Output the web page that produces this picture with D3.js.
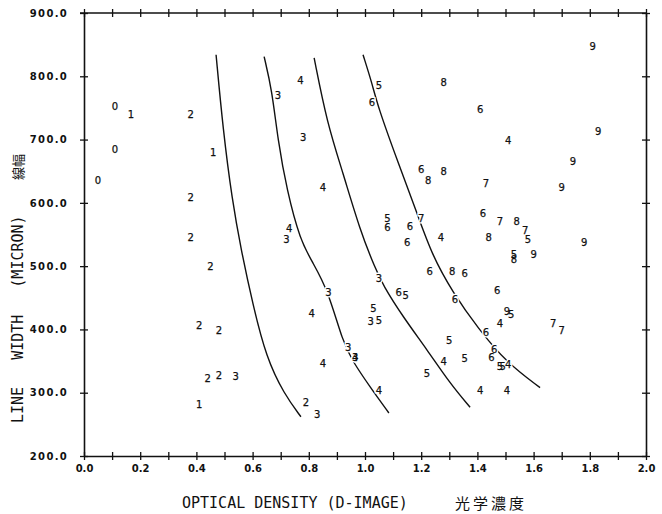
<!DOCTYPE html>
<html>
<head>
<meta charset="utf-8">
<script src="https://cdn.jsdelivr.net/npm/d3@7/dist/d3.min.js"></script>
<style>
  html, body { margin: 0; padding: 0; background: #fff; }
  svg { display: block; }
</style>
</head>
<body>
<svg id="chart" width="662" height="514"></svg>
<script>
// Axis ranges and tick values
const densityTicks = d3.range(0, 21).map(i => i / 10);       // 0.0 .. 2.0 every 0.1
const densityLabelTicks = d3.range(0, 11).map(i => i / 5);   // labelled every 0.2
const widthTicks = d3.range(200, 901, 100);                  // 200 .. 900

// Measured points: label digit, optical density, line width (micron)
const pointLabels = [
  "0","1","2","0","1","0","2","2","4","3","3","4","4","3",
  "9","8","5","6","6","9","4","9","6","8","8","7","9",
  "5","6","6","7","6","7","8","7","5","6","4","8","9","5","8","9",
  "2","2","2","2","2","3","1","2","3","4","4",
  "3","3","5","3","5","3","3","4","4",
  "6","8","6","6","6","5","6","9","5","4","7","7","6",
  "5","6","6","4","5","5","5","4","5","4","4"
];
const density = [
  0.11,0.167,0.38,0.11,0.46,0.05,0.38,0.38,0.77,0.69,0.78,0.85,0.73,0.72,
  1.81,1.28,1.05,1.025,1.41,1.83,1.51,1.74,1.20,1.225,1.28,1.43,1.70,
  1.08,1.08,1.16,1.20,1.42,1.48,1.54,1.57,1.58,1.15,1.27,1.44,1.78,1.53,1.53,1.60,
  0.45,0.41,0.48,0.44,0.48,0.54,0.41,0.79,0.83,0.81,0.85,
  0.87,1.05,1.03,1.02,1.05,0.94,0.965,0.965,1.05,
  1.23,1.31,1.355,1.47,1.12,1.145,1.32,1.505,1.52,1.48,1.67,1.70,1.43,
  1.30,1.46,1.45,1.28,1.355,1.48,1.49,1.51,1.22,1.41,1.505
];
const lineWidth = [
  753,739,740,684,680,636,608,546,793,770,704,625,560,543,
  848,791,786,758,747,713,698,666,653,636,649,630,625,
  576,562,563,576,584,570,571,557,543,538,545,545,537,518,511,518,
  500,407,399,323,328,325,281,285,266,426,347,
  458,481,434,412,415,372,356,356,303,
  491,492,489,462,458,453,447,428,424,409,410,398,396,
  383,369,356,349,355,342,342,344,331,304,304
];

// Constant-response contours: [optical density, line width]
const contour1 = [[0.470,834],[0.495,715],[0.527,605],[0.559,526],[0.601,439],[0.649,355],[0.712,298],[0.772,262]];
const contour2 = [[0.641,831],[0.669,778],[0.690,699],[0.722,620],[0.769,541],[0.815,505],[0.868,462],[0.922,379],[0.957,349],[1.018,309],[1.085,268]];
const contour3 = [[0.819,829],[0.865,726],[0.922,647],[0.982,557],[1.036,497],[1.064,470],[1.135,420],[1.221,368],[1.302,315],[1.374,277]];
const contour4 = [[0.993,834],[1.025,789],[1.046,752],[1.114,668],[1.185,584],[1.238,518],[1.313,458],[1.402,402],[1.505,347],[1.623,308]];
const contours = [contour1, contour2, contour3, contour4];

const svg = d3.select("#chart");
const plot = { left: 84, right: 646, top: 13, bottom: 456 };

const x = d3.scaleLinear().domain([0, 2]).range([plot.left, plot.right]);
const y = d3.scaleLinear().domain([200, 900]).range([plot.bottom, plot.top]);

const ink = "#111";
const tickFont = "'DejaVu Sans', sans-serif";
const plotFont = "'DejaVu Sans Mono', monospace";

// Frame and cross ticks built with d3 axes
function crossTicks(g, vertical) {
  g.selectAll(".tick line").attr("stroke", ink).attr("stroke-width", 1.3);
  if (vertical) g.selectAll(".tick line").attr("x1", -4).attr("x2", 4);
  else g.selectAll(".tick line").attr("y1", -4).attr("y2", 4);
  g.select(".domain").attr("stroke", ink).attr("stroke-width", 1.6);
}

const fmt = d3.format(".1f");

// bottom axis
const gB = svg.append("g").attr("transform", `translate(0,${plot.bottom})`)
  .call(d3.axisBottom(x).tickValues(densityTicks).tickSizeOuter(0).tickSizeInner(4)
    .tickFormat(d => densityLabelTicks.some(v => Math.abs(v - d) < 1e-9) ? fmt(d) : ""));
crossTicks(gB, false);
gB.selectAll(".tick text").attr("y", 9).attr("font-family", tickFont)
  .attr("font-size", 10).attr("font-weight", "bold").attr("fill", ink);

// top axis
const gT = svg.append("g").attr("transform", `translate(0,${plot.top})`)
  .call(d3.axisTop(x).tickValues(densityTicks).tickSizeOuter(0).tickSizeInner(4).tickFormat(""));
crossTicks(gT, false);
gT.select(".domain").attr("d", `M${plot.left - 4},0H${plot.right}`);

// left axis
const gL = svg.append("g").attr("transform", `translate(${plot.left},0)`)
  .call(d3.axisLeft(y).tickValues(widthTicks).tickSizeOuter(0).tickSizeInner(4).tickFormat(fmt));
crossTicks(gL, true);
gL.selectAll(".tick text").attr("x", -16).attr("font-family", tickFont)
  .attr("font-size", 10).attr("font-weight", "bold").attr("letter-spacing", 1.3).attr("fill", ink);

// right axis
const gR = svg.append("g").attr("transform", `translate(${plot.right},0)`)
  .call(d3.axisRight(y).tickValues(widthTicks).tickSizeOuter(0).tickSizeInner(4).tickFormat(""));
crossTicks(gR, true);

// contour curves (smoothed through the traced points)
const line = d3.line().x(d => x(d[0])).y(d => y(d[1])).curve(d3.curveBasis);
svg.append("g").selectAll("path").data(contours).join("path")
  .attr("d", line).attr("fill", "none").attr("stroke", ink).attr("stroke-width", 1.4);

// point labels: white knockout underneath, then the digits
const pts = pointLabels.map((t, i) => ({ t, od: density[i], w: lineWidth[i] }));
svg.append("g").selectAll("text").data(pts).join("text")
  .attr("x", d => x(d.od)).attr("y", d => y(d.w)).attr("dy", "0.36em")
  .attr("text-anchor", "middle").attr("font-family", tickFont).attr("font-size", 10)
  .attr("fill", "#fff").attr("stroke", "#fff").attr("stroke-width", 3)
  .text(d => d.t);
svg.append("g").selectAll("text").data(pts).join("text")
  .attr("x", d => x(d.od)).attr("y", d => y(d.w)).attr("dy", "0.36em")
  .attr("text-anchor", "middle").attr("font-family", tickFont).attr("font-size", 10)
  .attr("fill", ink).attr("stroke", ink).attr("stroke-width", 0.25)
  .text(d => d.t);

// axis titles
svg.append("text").attr("x", 182).attr("y", 508)
  .attr("font-family", plotFont).attr("font-size", 15).attr("fill", ink)
  .text("OPTICAL DENSITY (D-IMAGE)");
svg.append("text").attr("x", 455).attr("y", 509)
  .attr("font-family", "'Noto Sans CJK JP', sans-serif").attr("font-size", 15)
  .attr("letter-spacing", 3).attr("fill", ink)
  .text("光学濃度");

svg.append("text").attr("transform", "translate(23,423) rotate(-90)")
  .attr("font-family", plotFont).attr("font-size", 15).attr("word-spacing", 18).attr("fill", ink)
  .text("LINE WIDTH (MICRON)");
svg.append("text").attr("transform", "translate(23,180) rotate(-90)")
  .attr("font-family", "'Noto Sans CJK JP', sans-serif").attr("font-size", 13).attr("fill", ink)
  .text("線幅");
</script>
</body>
</html>
